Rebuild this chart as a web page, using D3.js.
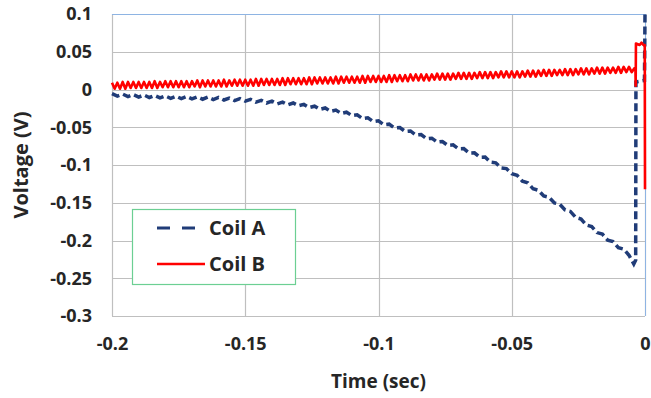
<!DOCTYPE html>
<html>
<head>
<meta charset="utf-8">
<script src="https://cdn.jsdelivr.net/npm/d3@7"></script>
<style>
  html, body { margin: 0; padding: 0; background: #fff; }
  #chart { width: 651px; height: 398px; }
  text { font-family: "Open Sans", Lato, sans-serif; font-weight: bold; fill: #262626; }
</style>
</head>
<body>
<div id="chart"></div>
<script>
// Tick values
const xTicks = [-0.2, -0.15, -0.1, -0.05, 0];
const yTicks = [0.1, 0.05, 0, -0.05, -0.1, -0.15, -0.2, -0.25, -0.3];

// Coil B: sampled every 1 ms from -0.200 s
const coilBStart = -0.2;
const coilBStep = 0.001;
const coilBValues = [
  0.009, 0.001, 0.009, 0.001, 0.010, 0.001, 0.010, 0.002, 0.010, 0.002,
  0.010, 0.002, 0.010, 0.002, 0.010, 0.002, 0.011, 0.002, 0.010, 0.003,
  0.011, 0.003, 0.011, 0.003, 0.011, 0.003, 0.011, 0.003, 0.011, 0.003,
  0.011, 0.004, 0.012, 0.003, 0.012, 0.004, 0.012, 0.004, 0.012, 0.004,
  0.012, 0.004, 0.013, 0.004, 0.012, 0.005, 0.013, 0.005, 0.013, 0.005,
  0.013, 0.005, 0.013, 0.005, 0.014, 0.005, 0.014, 0.006, 0.014, 0.006,
  0.014, 0.006, 0.014, 0.006, 0.015, 0.006, 0.015, 0.007, 0.015, 0.007,
  0.015, 0.007, 0.015, 0.007, 0.016, 0.007, 0.016, 0.008, 0.016, 0.008,
  0.016, 0.008, 0.016, 0.008, 0.017, 0.008, 0.017, 0.009, 0.017, 0.009,
  0.017, 0.009, 0.017, 0.009, 0.018, 0.009, 0.018, 0.010, 0.018, 0.010,
  0.018, 0.010, 0.018, 0.010, 0.019, 0.010, 0.019, 0.011, 0.019, 0.011,
  0.019, 0.011, 0.020, 0.012, 0.020, 0.012, 0.020, 0.012, 0.020, 0.012,
  0.020, 0.013, 0.021, 0.013, 0.021, 0.013, 0.021, 0.013, 0.021, 0.014,
  0.022, 0.014, 0.022, 0.014, 0.022, 0.014, 0.022, 0.015, 0.023, 0.015,
  0.023, 0.015, 0.023, 0.015, 0.023, 0.016, 0.024, 0.016, 0.024, 0.016,
  0.024, 0.016, 0.024, 0.016, 0.024, 0.017, 0.025, 0.017, 0.025, 0.017,
  0.025, 0.018, 0.026, 0.018, 0.026, 0.018, 0.026, 0.019, 0.026, 0.019,
  0.027, 0.019, 0.027, 0.019, 0.027, 0.020, 0.028, 0.020, 0.028, 0.020,
  0.028, 0.021, 0.029, 0.021, 0.029, 0.021, 0.029, 0.022, 0.029, 0.022,
  0.030, 0.022, 0.030, 0.023, 0.030, 0.023
];
// Coil B end transient [time, value]
const coilBTail = [
  [-0.0040, 0.028], [-0.0036, 0.028], [-0.0035, 0.005], [-0.0034, 0.061],
  [-0.0020, 0.059], [-0.0013, 0.062], [-0.0006, 0.059], [-0.0001, 0.059],
  [0, -0.132]
];

// Coil A: sampled every 2 ms from -0.200 s
const coilAStart = -0.2;
const coilAStep = 0.002;
const coilAValues = [
  -0.0055, -0.0088, -0.0061, -0.0094, -0.0067, -0.0100, -0.0073, -0.0106, -0.0079, -0.0112,
  -0.0085, -0.0117, -0.0089, -0.0121, -0.0093, -0.0125, -0.0097, -0.0129, -0.0101, -0.0133,
  -0.0105, -0.0139, -0.0113, -0.0147, -0.0121, -0.0155, -0.0131, -0.0167, -0.0143, -0.0179,
  -0.0155, -0.0191, -0.0167, -0.0203, -0.0179, -0.0215, -0.0197, -0.0239, -0.0221, -0.0263,
  -0.0245, -0.0289, -0.0273, -0.0317, -0.0301, -0.0345, -0.0335, -0.0385, -0.0375, -0.0425,
  -0.0415, -0.0467, -0.0459, -0.0511, -0.0503, -0.0555, -0.0549, -0.0603, -0.0597, -0.0651,
  -0.0645, -0.0697, -0.0689, -0.0741, -0.0733, -0.0785, -0.0783, -0.0841, -0.0839, -0.0897,
  -0.0895, -0.0963, -0.0971, -0.1039, -0.1047, -0.1115, -0.1135, -0.1215, -0.1235, -0.1315,
  -0.1335, -0.1411, -0.1427, -0.1503, -0.1519, -0.1595, -0.1615, -0.1695, -0.1715, -0.1795,
  -0.1815, -0.1895, -0.1915, -0.1995, -0.2015, -0.2095, -0.2115, -0.2195
];
// Coil A end transient [time, value]
const coilATail = [
  [-0.0042, -0.231], [-0.0035, -0.226], [-0.0034, 0.010], [-0.0002, 0.012], [0, 0.1]
];

const seriesNames = ['Coil A', 'Coil B'];
const colors = { coilA: '#203c78', coilB: '#ff0000', grid: '#bfbfbf', frame: '#8eb4e3', legend: '#6ccf93' };

const width = 651, height = 398;
const margin = { top: 14, right: 6, bottom: 82, left: 112 };

const svg = d3.select('#chart').append('svg')
  .attr('width', width)
  .attr('height', height);

const x = d3.scaleLinear().domain([-0.2, 0]).range([margin.left, width - margin.right]);
const y = d3.scaleLinear().domain([-0.3, 0.1]).range([height - margin.bottom, margin.top]);

// gridlines
svg.append('g')
  .selectAll('line.h')
  .data(yTicks)
  .join('line')
  .attr('x1', x(-0.2)).attr('x2', x(0))
  .attr('y1', d => Math.round(y(d)) + 0.5).attr('y2', d => Math.round(y(d)) + 0.5)
  .attr('stroke', colors.grid).attr('stroke-width', 1.2);

svg.append('g')
  .selectAll('line.v')
  .data(xTicks)
  .join('line')
  .attr('x1', d => Math.round(x(d)) + 0.5).attr('x2', d => Math.round(x(d)) + 0.5)
  .attr('y1', y(0.1)).attr('y2', y(-0.3))
  .attr('stroke', colors.grid).attr('stroke-width', 1.2);

// plot area frame, top and right in light blue
svg.append('line')
  .attr('x1', x(-0.2)).attr('x2', x(0))
  .attr('y1', Math.round(y(0.1)) + 0.5).attr('y2', Math.round(y(0.1)) + 0.5)
  .attr('stroke', colors.frame);
svg.append('line')
  .attr('x1', Math.round(x(0)) + 0.5).attr('x2', Math.round(x(0)) + 0.5)
  .attr('y1', y(0.1)).attr('y2', y(-0.3))
  .attr('stroke', colors.frame);

// axes labels
const fmt = d => d === 0 ? '0' : String(d);

svg.append('g')
  .attr('transform', `translate(0,${y(-0.3)})`)
  .call(d3.axisBottom(x).tickValues(xTicks).tickFormat(fmt).tickSize(0).tickPadding(21))
  .call(g => g.select('.domain').remove())
  .selectAll('text')
  .style('font-size', '18px')
  .attr('fill', '#262626');

svg.append('g')
  .attr('transform', `translate(${x(-0.2)},0)`)
  .call(d3.axisLeft(y).tickValues(yTicks).tickFormat(fmt).tickSize(0).tickPadding(20))
  .call(g => g.select('.domain').remove())
  .selectAll('text')
  .style('font-size', '18px')
  .attr('fill', '#262626');

svg.selectAll('.tick text').style('font-family', '"Open Sans", Lato, sans-serif').style('font-weight', 'bold');

svg.append('text')
  .attr('x', (x(-0.2) + x(0)) / 2)
  .attr('y', 388)
  .attr('text-anchor', 'middle')
  .style('font-size', '19px')
  .text('Time (sec)');

svg.append('text')
  .attr('transform', `translate(28,${(y(0.1) + y(-0.3)) / 2}) rotate(-90)`)
  .attr('text-anchor', 'middle')
  .style('font-size', '20px')
  .text('Voltage (V)');

// series
const coilB = coilBValues.map((v, i) => [coilBStart + i * coilBStep, v]).concat(coilBTail);
const coilA = coilAValues.map((v, i) => [coilAStart + i * coilAStep, v]).concat(coilATail);

const line = d3.line().x(d => x(d[0])).y(d => y(d[1]));

svg.append('path')
  .datum(coilA)
  .attr('fill', 'none')
  .attr('stroke', colors.coilA)
  .attr('stroke-width', 3.5)
  .attr('stroke-dasharray', '8,4')
  .attr('d', line);

svg.append('path')
  .datum(coilB)
  .attr('fill', 'none')
  .attr('stroke', colors.coilB)
  .attr('stroke-width', 2.6)
  .attr('stroke-linejoin', 'round')
  .attr('d', line);

// legend
const legend = svg.append('g');
legend.append('rect')
  .attr('x', 132.5).attr('y', 209.5)
  .attr('width', 163).attr('height', 75)
  .attr('fill', '#fff')
  .attr('stroke', colors.legend)
  .attr('stroke-width', 1.2);

const legendRows = [
  { name: seriesNames[0], color: colors.coilA, dash: '13,12', width: 3, y: 228 },
  { name: seriesNames[1], color: colors.coilB, dash: null, width: 2.6, y: 264 }
];

legendRows.forEach(r => {
  legend.append('line')
    .attr('x1', 157).attr('x2', r.dash ? 195 : 205)
    .attr('y1', r.y).attr('y2', r.y)
    .attr('stroke', r.color)
    .attr('stroke-width', r.width)
    .attr('stroke-dasharray', r.dash);
  legend.append('text')
    .attr('x', 209).attr('y', r.y + 7)
    .style('font-size', '20px')
    .text(r.name);
});
</script>
</body>
</html>
